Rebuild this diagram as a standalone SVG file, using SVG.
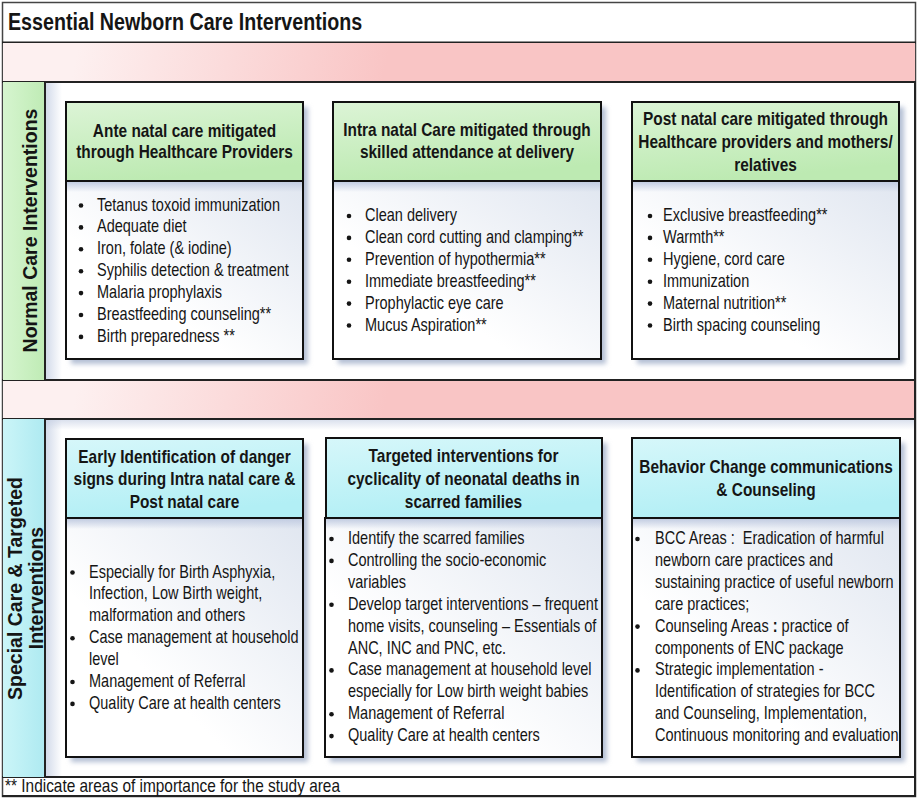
<svg xmlns="http://www.w3.org/2000/svg" width="919" height="802" viewBox="0 0 919 802">
<style>
.t{font-family:"Liberation Sans",Arial,sans-serif;font-size:17.7px;fill:#151515}
.h{font-family:"Liberation Sans",Arial,sans-serif;font-size:18.8px;font-weight:bold;fill:#151515;text-anchor:middle}
.ttl{font-family:"Liberation Sans",Arial,sans-serif;font-size:24px;font-weight:bold;fill:#151515}
.side{font-family:"Liberation Sans",Arial,sans-serif;font-size:19.5px;font-weight:bold;fill:#151515;text-anchor:middle}
.ln{stroke:#222;stroke-width:2;fill:none}
.bx{stroke:#111;stroke-width:2}
.sh{fill:#b4bfd4;filter:url(#blur)}
.bul{fill:#151515}
</style>
<defs>
<linearGradient id="pink1" gradientUnits="userSpaceOnUse" x1="80" y1="36" x2="380" y2="96"><stop offset="0" stop-color="#fdf0f0"/><stop offset="1" stop-color="#f9c5c5"/></linearGradient>
<linearGradient id="pink2" gradientUnits="userSpaceOnUse" x1="80" y1="373" x2="380" y2="433"><stop offset="0" stop-color="#fdf0f0"/><stop offset="1" stop-color="#f9c5c5"/></linearGradient>
<linearGradient id="green" x1="0" y1="0" x2="0.3" y2="1"><stop offset="0" stop-color="#dcf4d6"/><stop offset="1" stop-color="#bdeab2"/></linearGradient>
<linearGradient id="cyan" x1="0" y1="0" x2="0.3" y2="1"><stop offset="0" stop-color="#d6f7fa"/><stop offset="1" stop-color="#b2eff5"/></linearGradient>
<linearGradient id="colG" x1="0" y1="0" x2="1" y2="0"><stop offset="0" stop-color="#d6f5cf"/><stop offset="1" stop-color="#bfebb5"/></linearGradient>
<linearGradient id="colB" x1="0" y1="0" x2="1" y2="0"><stop offset="0" stop-color="#cbf5f8"/><stop offset="1" stop-color="#aeeaf1"/></linearGradient>
<linearGradient id="bodyFill" x1="1" y1="0" x2="0" y2="1"><stop offset="0" stop-color="#e0e6f0"/><stop offset="0.65" stop-color="#ffffff"/></linearGradient>
<linearGradient id="topShade" x1="0" y1="0" x2="0" y2="1"><stop offset="0" stop-color="#c3cde2"/><stop offset="1" stop-color="#c3cde2" stop-opacity="0"/></linearGradient>
<linearGradient id="leftShade" x1="0" y1="0" x2="1" y2="0"><stop offset="0" stop-color="#d3dbea"/><stop offset="1" stop-color="#d3dbea" stop-opacity="0"/></linearGradient>
<filter id="blur" x="-10%" y="-10%" width="120%" height="120%"><feGaussianBlur stdDeviation="2.5"/></filter>
</defs>

<g id="frame">
<rect x="2.5" y="2.5" width="913" height="794" fill="#ffffff" stroke="#444" stroke-width="1.5"/>
<line class="ln" x1="2" y1="42.5" x2="916" y2="42.5" stroke-width="1.5"/>
<rect x="3" y="43" width="912" height="39" fill="url(#pink1)"/>
<line class="ln" x1="2" y1="82" x2="916" y2="82"/>
<rect x="46" y="83" width="16" height="296" fill="url(#leftShade)"/>
<rect x="3" y="380" width="912" height="39" fill="url(#pink2)"/>
<line class="ln" x1="2" y1="380" x2="916" y2="380"/>
<line class="ln" x1="2" y1="419" x2="916" y2="419"/>
<rect x="46" y="420" width="16" height="356" fill="url(#leftShade)"/>
<rect x="46" y="420" width="869" height="10" fill="url(#topShade)" opacity="0.6"/>
<line class="ln" x1="2" y1="777" x2="916" y2="777"/>
<line class="ln" x1="2" y1="796" x2="916" y2="796"/>
<line class="ln" x1="915" y1="82" x2="915" y2="797" stroke-width="1.5"/>
<text class="ttl" transform="translate(8,29.5) scale(0.82,1)">Essential Newborn Care Interventions</text>
<text class="t" transform="translate(5,792) scale(0.82,1)" style="font-size:18.8px">** Indicate areas of importance for the study area</text>
</g>

<g id="side-normal">
<rect x="3" y="82" width="42" height="298" fill="url(#colG)"/>
<line class="ln" x1="45" y1="82" x2="45" y2="380"/>
<text class="side" transform="translate(37,230.5) rotate(-90)">Normal Care Interventions</text>
</g>

<g id="side-special">
<rect x="3" y="419" width="42" height="358" fill="url(#colB)"/>
<line class="ln" x1="45" y1="419" x2="45" y2="777"/>
<text class="side" transform="translate(22,588.5) rotate(-90)">Special Care &amp; Targeted</text>
<text class="side" transform="translate(43,588) rotate(-90)">Interventions</text>
</g>

<g id="connectors"></g>

<g id="box-antenatal">
<rect class="sh" x="71" y="107" width="237" height="257"/>
<rect class="bx" x="66" y="181" width="237" height="178" fill="url(#bodyFill)"/>
<rect x="67" y="182" width="235" height="10" fill="url(#topShade)"/>
<rect class="bx" x="66" y="102" width="237" height="79" fill="url(#green)"/>
<text class="h" transform="translate(184.5,136.5) scale(0.82,1)">Ante natal care mitigated</text>
<text class="h" transform="translate(184.5,158) scale(0.82,1)">through Healthcare Providers</text>
<g class="bul"><circle cx="81" cy="205.5" r="2.3"/><circle cx="81" cy="227.4" r="2.3"/><circle cx="81" cy="249.3" r="2.3"/><circle cx="81" cy="271.2" r="2.3"/><circle cx="81" cy="293.1" r="2.3"/><circle cx="81" cy="315" r="2.3"/><circle cx="81" cy="336.9" r="2.3"/></g>
<text class="t" transform="translate(97,210.5) scale(0.82,1)">Tetanus toxoid immunization</text>
<text class="t" transform="translate(97,232.4) scale(0.82,1)">Adequate diet</text>
<text class="t" transform="translate(97,254.3) scale(0.82,1)">Iron, folate (&amp; iodine)</text>
<text class="t" transform="translate(97,276.2) scale(0.82,1)">Syphilis detection &amp; treatment</text>
<text class="t" transform="translate(97,298.1) scale(0.82,1)">Malaria prophylaxis</text>
<text class="t" transform="translate(97,320) scale(0.82,1)">Breastfeeding counseling**</text>
<text class="t" transform="translate(97,341.9) scale(0.82,1)">Birth preparedness **</text>
</g>

<g id="box-intranatal">
<rect class="sh" x="338" y="107" width="268" height="257"/>
<rect class="bx" x="333" y="181" width="268" height="178" fill="url(#bodyFill)"/>
<rect x="334" y="182" width="266" height="10" fill="url(#topShade)"/>
<rect class="bx" x="333" y="102" width="268" height="79" fill="url(#green)"/>
<text class="h" transform="translate(467,136) scale(0.82,1)">Intra natal Care mitigated through</text>
<text class="h" transform="translate(467,158) scale(0.82,1)">skilled attendance at delivery</text>
<g class="bul"><circle cx="349" cy="216" r="2.3"/><circle cx="349" cy="237.9" r="2.3"/><circle cx="349" cy="259.8" r="2.3"/><circle cx="349" cy="281.7" r="2.3"/><circle cx="349" cy="303.6" r="2.3"/><circle cx="349" cy="325.5" r="2.3"/></g>
<text class="t" transform="translate(365,221) scale(0.82,1)">Clean delivery</text>
<text class="t" transform="translate(365,242.9) scale(0.82,1)">Clean cord cutting and clamping**</text>
<text class="t" transform="translate(365,264.8) scale(0.82,1)">Prevention of hypothermia**</text>
<text class="t" transform="translate(365,286.7) scale(0.82,1)">Immediate breastfeeding**</text>
<text class="t" transform="translate(365,308.6) scale(0.82,1)">Prophylactic eye care</text>
<text class="t" transform="translate(365,330.5) scale(0.82,1)">Mucus Aspiration**</text>
</g>

<g id="box-postnatal">
<rect class="sh" x="637" y="107" width="267" height="257"/>
<rect class="bx" x="632" y="181" width="267" height="178" fill="url(#bodyFill)"/>
<rect x="633" y="182" width="265" height="10" fill="url(#topShade)"/>
<rect class="bx" x="632" y="102" width="267" height="79" fill="url(#green)"/>
<text class="h" transform="translate(765.5,125) scale(0.82,1)">Post natal care mitigated through</text>
<text class="h" transform="translate(765.5,148) scale(0.82,1)">Healthcare providers and mothers/</text>
<text class="h" transform="translate(765.5,171) scale(0.82,1)">relatives</text>
<g class="bul"><circle cx="650" cy="216" r="2.3"/><circle cx="650" cy="237.9" r="2.3"/><circle cx="650" cy="259.8" r="2.3"/><circle cx="650" cy="281.7" r="2.3"/><circle cx="650" cy="303.6" r="2.3"/><circle cx="650" cy="325.5" r="2.3"/></g>
<text class="t" transform="translate(663,221) scale(0.82,1)">Exclusive breastfeeding**</text>
<text class="t" transform="translate(663,242.9) scale(0.82,1)">Warmth**</text>
<text class="t" transform="translate(663,264.8) scale(0.82,1)">Hygiene, cord care</text>
<text class="t" transform="translate(663,286.7) scale(0.82,1)">Immunization</text>
<text class="t" transform="translate(663,308.6) scale(0.82,1)">Maternal nutrition**</text>
<text class="t" transform="translate(663,330.5) scale(0.82,1)">Birth spacing counseling</text>
</g>

<g id="box-early">
<rect class="sh" x="71" y="444" width="237" height="318"/>
<rect class="bx" x="66" y="518" width="237" height="239" fill="url(#bodyFill)"/>
<rect x="67" y="519" width="235" height="10" fill="url(#topShade)"/>
<rect class="bx" x="66" y="439" width="237" height="79" fill="url(#cyan)"/>
<text class="h" transform="translate(184.5,462.5) scale(0.82,1)">Early Identification of danger</text>
<text class="h" transform="translate(184.5,485.2) scale(0.82,1)">signs during Intra natal care &amp;</text>
<text class="h" transform="translate(184.5,507.9) scale(0.82,1)">Post natal care</text>
<g class="bul"><circle cx="72.5" cy="572.5" r="2.3"/><circle cx="72.5" cy="638.2" r="2.3"/><circle cx="72.5" cy="682" r="2.3"/><circle cx="72.5" cy="703.9" r="2.3"/></g>
<text class="t" transform="translate(89,577.5) scale(0.82,1)">Especially for Birth Asphyxia,</text>
<text class="t" transform="translate(89,599.4) scale(0.82,1)">Infection, Low Birth weight,</text>
<text class="t" transform="translate(89,621.3) scale(0.82,1)">malformation and others</text>
<text class="t" transform="translate(89,643.2) scale(0.82,1)">Case management at household</text>
<text class="t" transform="translate(89,665.1) scale(0.82,1)">level</text>
<text class="t" transform="translate(89,687) scale(0.82,1)">Management of Referral</text>
<text class="t" transform="translate(89,708.9) scale(0.82,1)">Quality Care at health centers</text>
</g>

<g id="box-targeted">
<rect class="sh" x="330" y="443" width="277" height="319"/>
<rect class="bx" x="325" y="518" width="277" height="239" fill="url(#bodyFill)"/>
<rect x="326" y="519" width="275" height="10" fill="url(#topShade)"/>
<rect class="bx" x="326" y="438" width="276" height="80" fill="url(#cyan)"/>
<text class="h" transform="translate(463.5,461.5) scale(0.82,1)">Targeted interventions for</text>
<text class="h" transform="translate(463.5,484.7) scale(0.82,1)">cyclicality of neonatal deaths in</text>
<text class="h" transform="translate(463.5,507.9) scale(0.82,1)">scarred families</text>
<g class="bul"><circle cx="331.5" cy="539" r="2.3"/><circle cx="331.5" cy="560.9" r="2.3"/><circle cx="331.5" cy="604.7" r="2.3"/><circle cx="331.5" cy="670.4" r="2.3"/><circle cx="331.5" cy="714.2" r="2.3"/><circle cx="331.5" cy="736.1" r="2.3"/></g>
<text class="t" transform="translate(348,544) scale(0.82,1)">Identify the scarred families</text>
<text class="t" transform="translate(348,565.9) scale(0.82,1)">Controlling the socio-economic</text>
<text class="t" transform="translate(348,587.8) scale(0.82,1)">variables</text>
<text class="t" transform="translate(348,609.7) scale(0.82,1)">Develop target interventions – frequent</text>
<text class="t" transform="translate(348,631.6) scale(0.82,1)">home visits, counseling – Essentials of</text>
<text class="t" transform="translate(348,653.5) scale(0.82,1)">ANC, INC and PNC, etc.</text>
<text class="t" transform="translate(348,675.4) scale(0.82,1)">Case management at household level</text>
<text class="t" transform="translate(348,697.3) scale(0.82,1)">especially for Low birth weight babies</text>
<text class="t" transform="translate(348,719.2) scale(0.82,1)">Management of Referral</text>
<text class="t" transform="translate(348,741.1) scale(0.82,1)">Quality Care at health centers</text>
</g>

<g id="box-bcc">
<rect class="sh" x="637" y="443" width="268" height="319"/>
<rect class="bx" x="632" y="518" width="268" height="239" fill="url(#bodyFill)"/>
<rect x="633" y="519" width="266" height="10" fill="url(#topShade)"/>
<rect class="bx" x="632" y="438" width="268" height="80" fill="url(#cyan)"/>
<text class="h" transform="translate(766,473) scale(0.82,1)">Behavior Change communications</text>
<text class="h" transform="translate(766,496) scale(0.82,1)">&amp; Counseling</text>
<g class="bul"><circle cx="637.5" cy="539" r="2.3"/><circle cx="637.5" cy="626.6" r="2.3"/><circle cx="637.5" cy="670.4" r="2.3"/></g>
<text class="t" transform="translate(655,544) scale(0.82,1)" xml:space="preserve">BCC Areas :  Eradication of harmful</text>
<text class="t" transform="translate(655,565.9) scale(0.82,1)">newborn care practices and</text>
<text class="t" transform="translate(655,587.8) scale(0.82,1)">sustaining practice of useful newborn</text>
<text class="t" transform="translate(655,609.7) scale(0.82,1)">care practices;</text>
<text class="t" transform="translate(655,631.6) scale(0.82,1)">Counseling Areas <tspan font-weight="bold">:</tspan> practice of</text>
<text class="t" transform="translate(655,653.5) scale(0.82,1)">components of ENC package</text>
<text class="t" transform="translate(655,675.4) scale(0.82,1)">Strategic implementation -</text>
<text class="t" transform="translate(655,697.3) scale(0.82,1)">Identification of strategies for BCC</text>
<text class="t" transform="translate(655,719.2) scale(0.82,1)">and Counseling, Implementation,</text>
<text class="t" transform="translate(655,741.1) scale(0.82,1)">Continuous monitoring and evaluation</text>
</g>
</svg>
